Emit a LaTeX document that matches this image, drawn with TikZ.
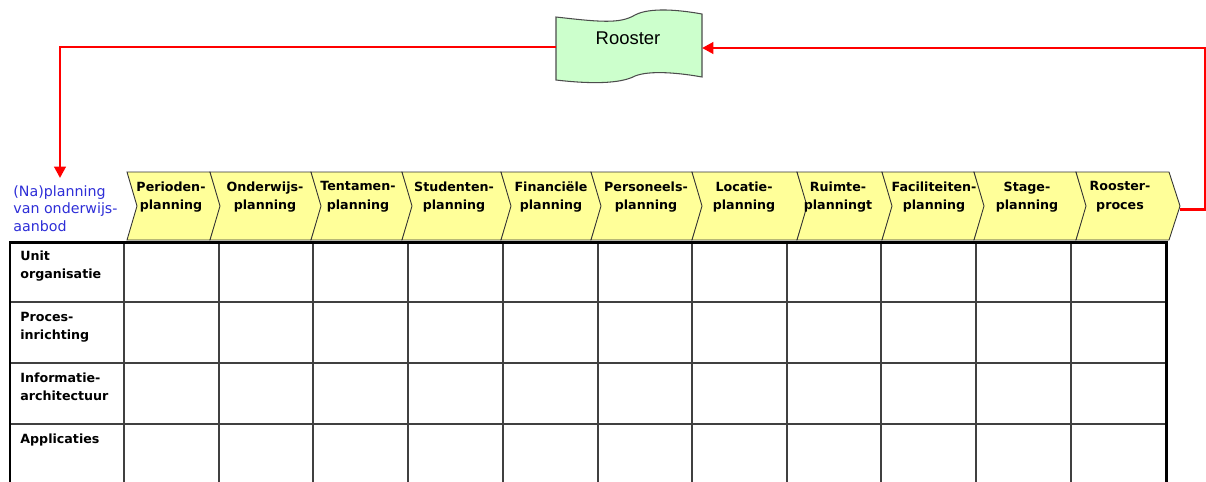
\documentclass[tikz,border=0pt]{standalone}
\usepackage{fontspec}
\setmainfont{DejaVu Sans}
\newfontfamily\arialfont{Liberation Sans}
\usepackage{tikz}
\usetikzlibrary{positioning,arrows.meta,calc}
\definecolor{chevYellow}{RGB}{255,255,153}
\definecolor{tapeGreen}{RGB}{204,255,204}
\definecolor{naBlue}{RGB}{45,45,215}

\begin{document}
\begin{tikzpicture}[
    x=0.02cm, y=-0.02cm,
    chev/.style={draw=black!80, line width=0.5pt, fill=chevYellow},
    chev text/.style={font=\fontsize{7.2}{10.6}\selectfont\bfseries, align=center, inner sep=0pt},
    row text/.style={font=\fontsize{7.2}{10.2}\selectfont\bfseries, align=left, anchor=north west, inner sep=0pt},
    grid line/.style={draw=black!75, line width=0.6pt},
    table border/.style={draw=black, line width=1.7pt},
    feedback/.style={draw=red, line width=1.7pt, -{Triangle[length=6.5pt, width=6.5pt]}}
]
  \useasboundingbox (0,0) rectangle (1206,481);

  % rooster (tape shape)
  \draw[draw=black!70, line width=0.6pt, fill=tapeGreen]
    (556,17) .. controls (600,22) and (620,24) .. (635,15)
    .. controls (650,7) and (680,10) .. (702,14) -- (702,77)
    .. controls (680,73) and (650,70) .. (635,76)
    .. controls (620,84) and (590,84) .. (556,80) -- cycle;
  \node[font=\arialfont\fontsize{10.5}{12}\selectfont] (rooster) at (628,38) {Rooster};
  \coordinate (roosterW) at (556,47);
  \coordinate (roosterE) at (702,48);

  % chevrons
  \foreach \xl/\xr/\xt/\lbl [count=\i] in {
      127/221/171/{Perioden-\\planning},
      210/322/265/{Onderwijs-\\planning},
      311/413/358/{Tentamen-\\planning},
      402/512/454/{Studenten-\\planning},
      501/602/551/{Financiële\\planning},
      591/703/646/{Personeels-\\planning},
      692/808/744/{Locatie-\\planning},
      797/893/838/{Ruimte-\\planningt},
      882/985/934/{Faciliteiten-\\planning},
      974/1087/1027/{Stage-\\planning},
      1076/1180/1120/{Rooster-\\proces}} {
    \draw[chev] (\xl,172) -- (\xr-11,172) -- (\xr,206) -- (\xr-11,240)
      -- (\xl,240) -- (\xl+10,206) -- cycle;
    \node[chev text] (plan\i) at (\xt,197) {\lbl};
  }
  \coordinate (procTip) at (1180,209);
  \coordinate (aanbodTop) at (60,178);

  \node[font=\fontsize{8.1}{10.1}\selectfont, text=naBlue, align=left, anchor=north west, inner sep=0pt]
    (aanbod) at (13,185) {(Na)planning\\van onderwijs-\\aanbod};

  % table
  \foreach \x in {124,219,313,408,503,598,692,787,881,976,1071}
    \draw[grid line] (\x,242) -- (\x,490);
  \foreach \y in {302,363,424}
    \draw[grid line] (10,\y) -- (1166,\y);
  \draw[table border] (10,490) -- (10,242) -- (1166,242) -- (1166,490);

  \node[row text] (row1) at (20,251) {Unit\\organisatie};
  \node[row text] (row2) at (20,312) {Proces-\\inrichting};
  \node[row text] (row3) at (20,373) {Informatie-\\architectuur};
  \node[row text] (row4) at (20,434) {Applicaties};

  % red feedback loop
  \draw[feedback] (roosterW) -| (aanbodTop);
  \draw[feedback] (procTip) -- (1205.5,209) |- (roosterE);
\end{tikzpicture}
\end{document}
